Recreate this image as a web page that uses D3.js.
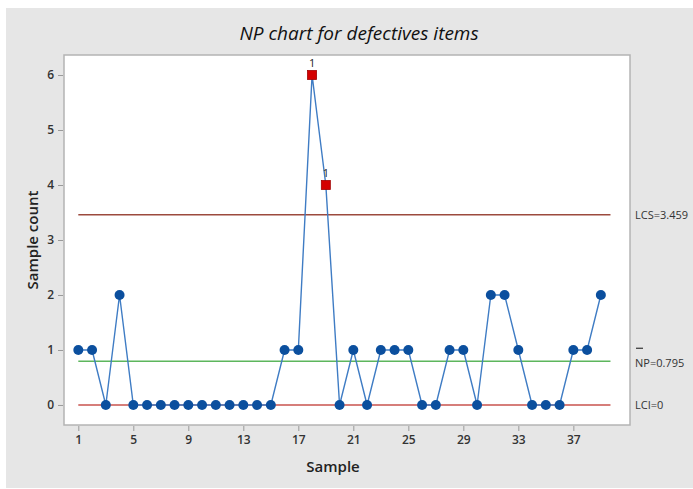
<!DOCTYPE html>
<html>
<head>
<meta charset="utf-8">
<script src="https://cdn.jsdelivr.net/npm/d3@7"></script>
<style>
  html, body { margin: 0; padding: 0; background: #ffffff; }
  svg { display: block; }
</style>
</head>
<body>
<script>
// NP chart data: defective counts per sample
const samples = d3.range(1, 40);
const defectives = [1, 1, 0, 2, 0, 0, 0, 0, 0, 0, 0, 0, 0, 0, 0, 1, 1, 6, 4, 0,
                    1, 0, 1, 1, 1, 0, 0, 1, 1, 0, 2, 2, 1, 0, 0, 0, 1, 1, 2];
const xTicks = [1, 5, 9, 13, 17, 21, 25, 29, 33, 37];
const yTicks = [0, 1, 2, 3, 4, 5, 6];
const ucl = 3.459;   // LCS
const center = 0.795; // NP-bar
const lcl = 0;       // LCI

const W = 693, H = 489;
const plot = { left: 64, right: 630, top: 55, bottom: 425 };

const svg = d3.select("body").append("svg").attr("width", W).attr("height", H);

// panel background
svg.append("rect").attr("x", 6).attr("y", 8).attr("width", W - 6).attr("height", H - 9)
  .attr("fill", "#e6e6e6");

const x = d3.scaleLinear().domain([-0.04, 41.12]).range([plot.left, plot.right]);
const y = d3.scaleLinear().domain([-0.364, 6.364]).range([plot.bottom, plot.top]);

// plot area
svg.append("rect")
  .attr("x", plot.left).attr("y", plot.top)
  .attr("width", plot.right - plot.left).attr("height", plot.bottom - plot.top)
  .attr("fill", "#ffffff").attr("stroke", "#b4b4b4").attr("stroke-width", 1.5);

// title
svg.append("text").attr("x", 359).attr("y", 40).attr("text-anchor", "middle")
  .attr("font-family", "'Open Sans', sans-serif").attr("font-style", "italic")
  .attr("font-size", 19).attr("fill", "#111").text("NP chart for defectives items");

// axes
const font = "'Open Sans', sans-serif";
const yAxis = svg.append("g").attr("transform", `translate(${plot.left - 1},0)`)
  .call(d3.axisLeft(y).tickValues(yTicks).tickSize(5).tickPadding(4).tickFormat(d3.format("d")));
const xAxis = svg.append("g").attr("transform", `translate(0,${plot.bottom + 1})`)
  .call(d3.axisBottom(x).tickValues(xTicks).tickSize(5).tickPadding(4).tickFormat(d3.format("d")));
[yAxis, xAxis].forEach(g => {
  g.select(".domain").remove();
  g.selectAll(".tick line").attr("stroke", "#9a9a9a");
  g.selectAll(".tick text").attr("font-family", font).attr("font-size", 12)
    .attr("font-weight", 600).attr("fill", "#333");
});

// axis titles
svg.append("text").attr("x", 333).attr("y", 472).attr("text-anchor", "middle")
  .attr("font-family", font).attr("font-size", 15).attr("font-weight", 600)
  .attr("fill", "#222").text("Sample");
svg.append("text").attr("transform", "translate(38,240) rotate(-90)")
  .attr("text-anchor", "middle")
  .attr("font-family", font).attr("font-size", 15).attr("font-weight", 600)
  .attr("fill", "#222").text("Sample count");

// control limits and centre line
const limitEnd = 39.7;
const limits = [
  { v: ucl, color: "#9c4a3e", label: "LCS=" + ucl },
  { v: center, color: "#5db65d", label: "NP=" + center },
  { v: lcl, color: "#c9534e", label: "LCI=" + lcl }
];
limits.forEach(l => {
  svg.append("line")
    .attr("x1", x(1)).attr("x2", x(limitEnd))
    .attr("y1", y(l.v)).attr("y2", y(l.v))
    .attr("stroke", l.color).attr("stroke-width", 1.6);
  svg.append("text").attr("x", 635).attr("y", y(l.v) + (l.v === center ? 2 : 0))
    .attr("dy", "0.35em").attr("font-family", font).attr("font-size", 11)
    .attr("fill", "#333").text(l.label);
});
// bar over NP
svg.append("line").attr("x1", 636).attr("x2", 643)
  .attr("y1", y(center) - 13).attr("y2", y(center) - 13)
  .attr("stroke", "#333").attr("stroke-width", 1.2);

// data line
const pts = samples.map((s, i) => ({ s, v: defectives[i] }));
svg.append("path").datum(pts)
  .attr("d", d3.line().x(d => x(d.s)).y(d => y(d.v)))
  .attr("fill", "none").attr("stroke", "#3f7cc4").attr("stroke-width", 1.4);

// in-control points
svg.selectAll("circle.pt").data(pts.filter(d => d.v <= ucl)).join("circle")
  .attr("class", "pt").attr("cx", d => x(d.s)).attr("cy", d => y(d.v)).attr("r", 5)
  .attr("fill", "#0b4f9e");

// out-of-control points
const out = pts.filter(d => d.v > ucl);
svg.selectAll("rect.oc").data(out).join("rect")
  .attr("class", "oc").attr("x", d => x(d.s) - 4.5).attr("y", d => y(d.v) - 4.5)
  .attr("width", 9).attr("height", 9)
  .attr("fill", "#d40000").attr("stroke", "#a00000").attr("stroke-width", 0.8);
svg.selectAll("text.oc").data(out).join("text")
  .attr("class", "oc").attr("x", d => x(d.s)).attr("y", d => y(d.v) - 8)
  .attr("text-anchor", "middle").attr("font-family", font).attr("font-size", 11)
  .attr("fill", "#222").text("1");
</script>
</body>
</html>
